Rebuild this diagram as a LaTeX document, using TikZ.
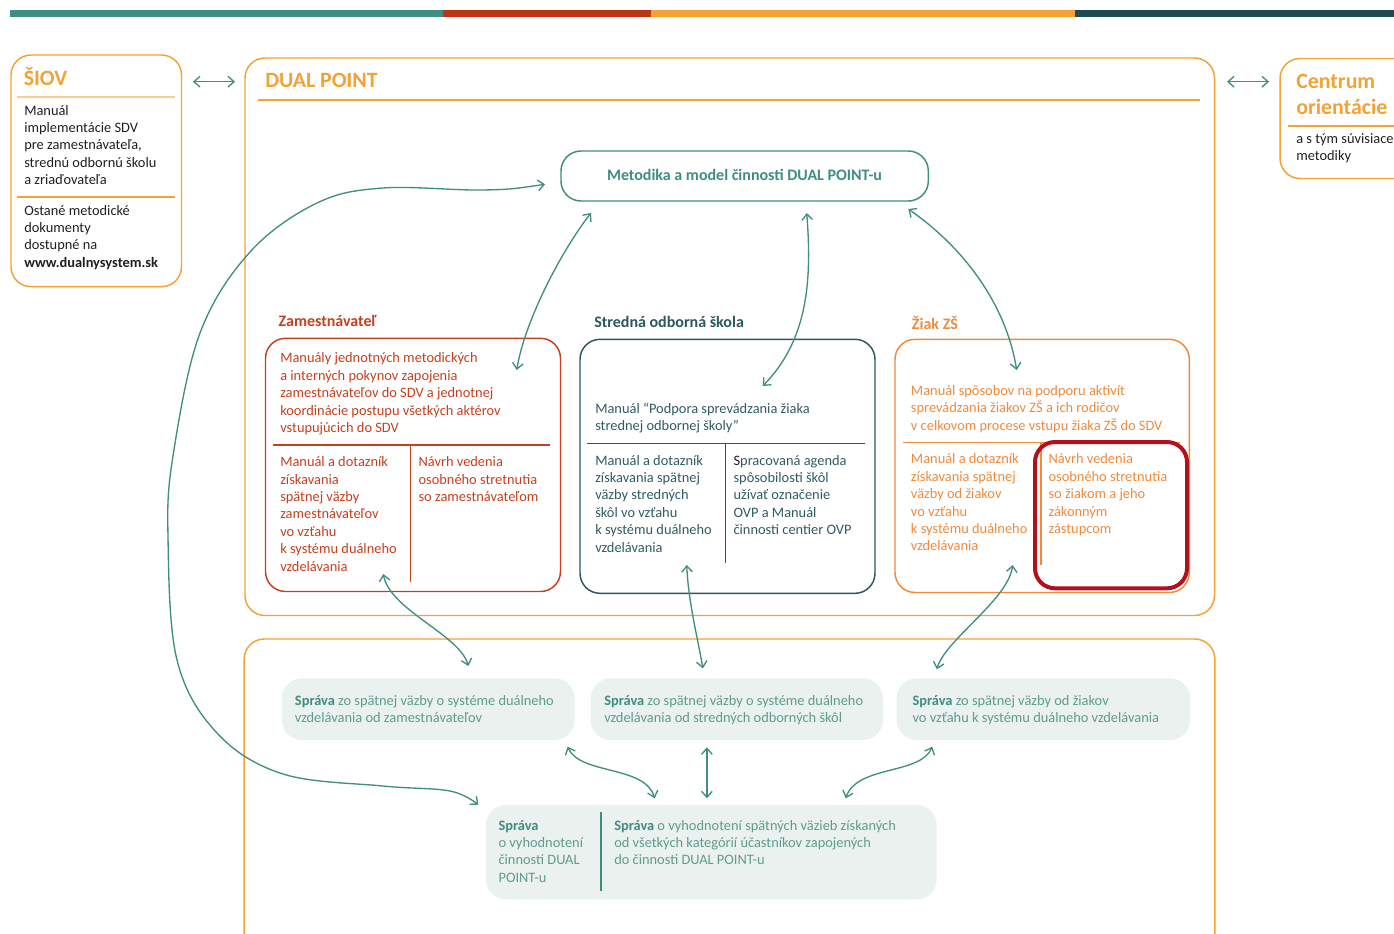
\documentclass[tikz,border=0pt]{standalone}
\usepackage{fontspec}
\setmainfont{Carlito}
\usetikzlibrary{arrows.meta,fit}
\definecolor{cTeal}{HTML}{3F8E80}
\definecolor{cBarRed}{HTML}{BD3517}
\definecolor{cOrange}{HTML}{F3A235}
\definecolor{cOrangeLt}{HTML}{F8CE96}
\definecolor{cBarDark}{HTML}{1E4A53}
\definecolor{cRed}{HTML}{C4401F}
\definecolor{cDark}{HTML}{2B5760}
\definecolor{cDarkTxt}{HTML}{2F5C63}
\definecolor{cZiak}{HTML}{F08A3C}
\definecolor{cHi}{HTML}{B3101B}
\definecolor{cRep}{HTML}{EAF1EE}
\definecolor{cRepTxt}{HTML}{5E9C8F}
\definecolor{cBody}{HTML}{231F20}
\newcommand{\lns}[1]{\begin{tabular}[t]{@{}l@{}}#1\end{tabular}}
\tikzset{
  conn/.style={draw=cTeal, line width=1pt,
    {Straight Barb[length=4.5pt,width=8pt]}-{Straight Barb[length=4.5pt,width=8pt]}},
  obox/.style={draw=cOrange, line width=1.1pt, rounded corners=15pt, inner sep=0pt, fit={#1}},
  rbox/.style={draw=#1, line width=1.1pt, rounded corners=15pt, inner sep=0pt},
  repbox/.style={fill=cRep, rounded corners=15pt, inner sep=0pt, fit={#1}},
  txt/.style={anchor=base west, inner sep=0pt, font=\fontsize{10.8}{13.05}\selectfont},
  bigtitle/.style={anchor=base west, inner sep=0pt, text=cOrange, font=\fontsize{16.4}{19.5}\selectfont\bfseries},
  label/.style={anchor=base west, inner sep=0pt, font=\fontsize{12}{14}\selectfont\bfseries},
  sepline/.style={line width=1.2pt}
}
\begin{document}
\begin{tikzpicture}[x=0.75pt,y=-0.75pt]
\useasboundingbox (0,0) rectangle (1394,933);
\fill[white] (0,0) rectangle (1394,933);
% top colour bar
\fill[cTeal] (10,9.5) rectangle (443,17.3);
\fill[cBarRed] (443,9.5) rectangle (651,17.3);
\fill[cOrange] (651,9.5) rectangle (1075,17.3);
\fill[cBarDark] (1075,9.5) rectangle (1394,17.3);

% ---------- SIOV ----------
\node[obox={(11,55) (181.5,286.7)}] (siov) {};
\node[bigtitle] (siovT) at (23.5,85) {ŠIOV};
\draw[sepline, cOrangeLt] (16.7,96.7) -- (175,96.7);
\node[txt, text=cBody] (siovA) at (24,115) {\lns{Manuál\\implementácie SDV\\pre zamestnávateľa,\\strednú odbornú školu\\a zriaďovateľa}};
\draw[sepline, cOrange] (16.7,196.7) -- (175,196.7);
\node[txt, text=cBody] (siovB) at (24,215) {\lns{Ostané metodické\\dokumenty\\dostupné na\\\textbf{www.dualnysystem.sk}}};

% ---------- DUAL POINT ----------
\node[obox={(245,58) (1214.5,615.5)}] (dual) {};
\node[bigtitle] (dualT) at (265,87) {DUAL POINT};
\draw[sepline, cOrange] (258,100) -- (1200,100);

% ---------- Centrum orientacie ----------
\node[obox={(1280,58.5) (1430,178.5)}] (centrum) {};
\node[bigtitle] (centrumT) at (1296,88) {\lns{Centrum\\[0.45pt]orientácie}};
\draw[sepline, cOrange] (1288,126) -- (1394,126);
\node[txt, text=cBody] (centrumA) at (1296,143.5) {\lns{a s tým súvisiace\\metodiky}};

% ---------- Metodika ----------
\node[rbox=cTeal, fit={(561,151) (928.3,201)}] (metodika) {};
\node[anchor=base, inner sep=0pt, text=cTeal, font=\fontsize{12}{14}\selectfont\bfseries] (metodikaT) at (744.5,180) {Metodika a model činnosti DUAL POINT-u};

% ---------- Zamestnavatel ----------
\node[label, text=cRed] (zamL) at (278.3,326.7) {Zamestnávateľ};
\node[rbox=cRed, fit={(265.5,338.3) (560.5,591.5)}] (zam) {};
\node[txt, text=cRed] (zamA) at (280,362.8) {\lns{Manuály jednotných metodických\\a interných pokynov zapojenia\\zamestnávateľov do SDV a jednotnej\\koordinácie postupu všetkých aktérov\\vstupujúcich do SDV}};
\draw[sepline, cRed] (272.7,445) -- (550,445);
\draw[line width=1pt, cRed] (410.7,445) -- (410.7,581.7);
\node[txt, text=cRed] (zamB) at (280,466.7) {\lns{Manuál a dotazník\\získavania\\spätnej väzby\\zamestnávateľov\\vo vzťahu\\k systému duálneho\\vzdelávania}};
\node[txt, text=cRed] (zamC) at (418.3,466.7) {\lns{Návrh vedenia\\osobného stretnutia\\so zamestnávateľom}};

% ---------- Stredna odborna skola ----------
\node[label, text=cDark] (sosL) at (594,327.5) {Stredná odborná škola};
\node[rbox=cDark, fit={(580,339.3) (875,593.3)}] (sos) {};
\node[txt, text=cDarkTxt] (sosA) at (595,413.3) {\lns{Manuál “Podpora sprevádzania žiaka\\strednej odbornej školy”}};
\draw[sepline, cDark] (587.3,443.3) -- (865,443.3);
\draw[line width=1pt, cDark] (725.7,443.3) -- (725.7,563.3);
\node[txt, text=cDarkTxt] (sosB) at (595,465) {\lns{Manuál a dotazník\\získavania spätnej\\väzby stredných\\škôl vo vzťahu\\k systému duálneho\\vzdelávania}};
\node[txt, text=cDarkTxt] (sosC) at (733.3,465) {\lns{{\color{cBody}S}pracovaná agenda\\spôsobilosti škôl\\užívať označenie\\OVP a Manuál\\činnosti centier OVP}};

% ---------- Ziak ZS ----------
\node[label, text=cZiak] (ziakL) at (911.7,329.3) {Žiak ZŠ};
\node[rbox=cZiak, fit={(895,339.3) (1189.3,592.5)}] (ziak) {};
\node[txt, text=cZiak] (ziakA) at (910.7,395.5) {\lns{Manuál spôsobov na podporu aktivít\\sprevádzania žiakov ZŠ a ich rodičov\\v celkovom procese vstupu žiaka ZŠ do SDV}};
\draw[sepline, cZiak] (903.3,442.3) -- (1180,442.3);
\draw[line width=1pt, cZiak] (1041,442.3) -- (1041,565);
\node[txt, text=cZiak] (ziakB) at (910.7,463.8) {\lns{Manuál a dotazník\\získavania spätnej\\väzby od žiakov\\vo vzťahu\\k systému duálneho\\vzdelávania}};
\node[txt, text=cZiak] (ziakC) at (1048.3,463.8) {\lns{Návrh vedenia\\osobného stretnutia\\so žiakom a jeho\\zákonným\\zástupcom}};
\node[draw=cHi, line width=3pt, rounded corners=15pt, inner sep=0pt, fit={(1035,442) (1187,588.3)}] (hi) {};

% ---------- lower frame ----------
\node[obox={(244.2,639) (1214.8,990)}] (lower) {};

% reports
\node[repbox={(282,678.3) (574.6,740)}] (rep1) {};
\node[txt, text=cRepTxt] (rep1T) at (294.7,705.5) {\lns{{\bfseries\color{cTeal}Správa} zo spätnej väzby o systéme duálneho\\vzdelávania od zamestnávateľov}};
\node[repbox={(590.6,678.3) (883,740)}] (rep2) {};
\node[txt, text=cRepTxt] (rep2T) at (604,705.5) {\lns{{\bfseries\color{cTeal}Správa} zo spätnej väzby o systéme duálneho\\vzdelávania od stredných odborných škôl}};
\node[repbox={(896.7,678.3) (1190,740)}] (rep3) {};
\node[txt, text=cRepTxt] (rep3T) at (912.3,705.5) {\lns{{\bfseries\color{cTeal}Správa} zo spätnej väzby od žiakov\\vo vzťahu k systému duálneho vzdelávania}};

\node[repbox={(486,805) (936.7,899.3)}] (final) {};
\draw[line width=1.4pt, cTeal] (600.7,812.3) -- (600.7,890.7);
\node[txt, text=cRepTxt] (finalA) at (498.3,830) {\lns{{\bfseries\color{cTeal}Správa}\\o vyhodnotení\\činnosti DUAL\\POINT-u}};
\node[txt, text=cRepTxt] (finalB) at (614,830) {\lns{{\bfseries\color{cTeal}Správa} o vyhodnotení spätných väzieb získaných\\od všetkých kategórií účastníkov zapojených\\do činnosti DUAL POINT-u}};

% ---------- connector end points ----------
\coordinate (siovE) at (193,81.7);
\coordinate (dualW) at (235,81.7);
\coordinate (dualE) at (1227,81.7);
\coordinate (centrumW) at (1269,81.7);
\coordinate (metW) at (545,184.3);
\coordinate (finalW) at (478.3,804.7);
\coordinate (metSW) at (591,213);
\coordinate (zamN) at (516.7,370);
\coordinate (metS) at (806.7,213);
\coordinate (sosN) at (762.7,386);
\coordinate (metSE) at (908.3,209);
\coordinate (ziakN) at (1016.7,370);
\coordinate (zamS) at (383.3,574);
\coordinate (rep1N) at (468.3,666);
\coordinate (sosS) at (686.8,565);
\coordinate (rep2N) at (702.9,668.3);
\coordinate (ziakS) at (1012.7,565);
\coordinate (rep3N) at (936.8,669.3);
\coordinate (rep1S) at (567.6,746.7);
\coordinate (finalN1) at (654.6,798.3);
\coordinate (rep2S) at (706.9,747.3);
\coordinate (finalN2) at (706.9,798.3);
\coordinate (rep3S) at (932.3,746.7);
\coordinate (finalN3) at (845.7,798.3);

% ---------- connectors ----------
\draw[conn] (siovE) -- (dualW);
\draw[conn] (dualE) -- (centrumW);
\draw[conn] plot[smooth, tension=0.6] coordinates {(metW) (483,190) (383,188) (317,203) (250,252) (200,333) (173,456) (168,537) (177,660) (217,733) (283,774) (383,786) (450,791) (finalW)};
\draw[conn] (metSW) .. controls (562,250) and (525,320) .. (zamN);
\draw[conn] (metS) .. controls (812,280) and (808,340) .. (sosN);
\draw[conn] (metSE) .. controls (960,245) and (1005,300) .. (ziakN);
\draw[conn] (zamS) .. controls (390,610) and (460,635) .. (rep1N);
\draw[conn] (sosS) .. controls (688,600) and (698,640) .. (rep2N);
\draw[conn] (ziakS) .. controls (1008,600) and (945,640) .. (rep3N);
\draw[conn] (rep1S) .. controls (580,775) and (645,765) .. (finalN1);
\draw[conn] (rep2S) -- (finalN2);
\draw[conn] (rep3S) .. controls (920,775) and (857,765) .. (finalN3);
\end{tikzpicture}
\end{document}
